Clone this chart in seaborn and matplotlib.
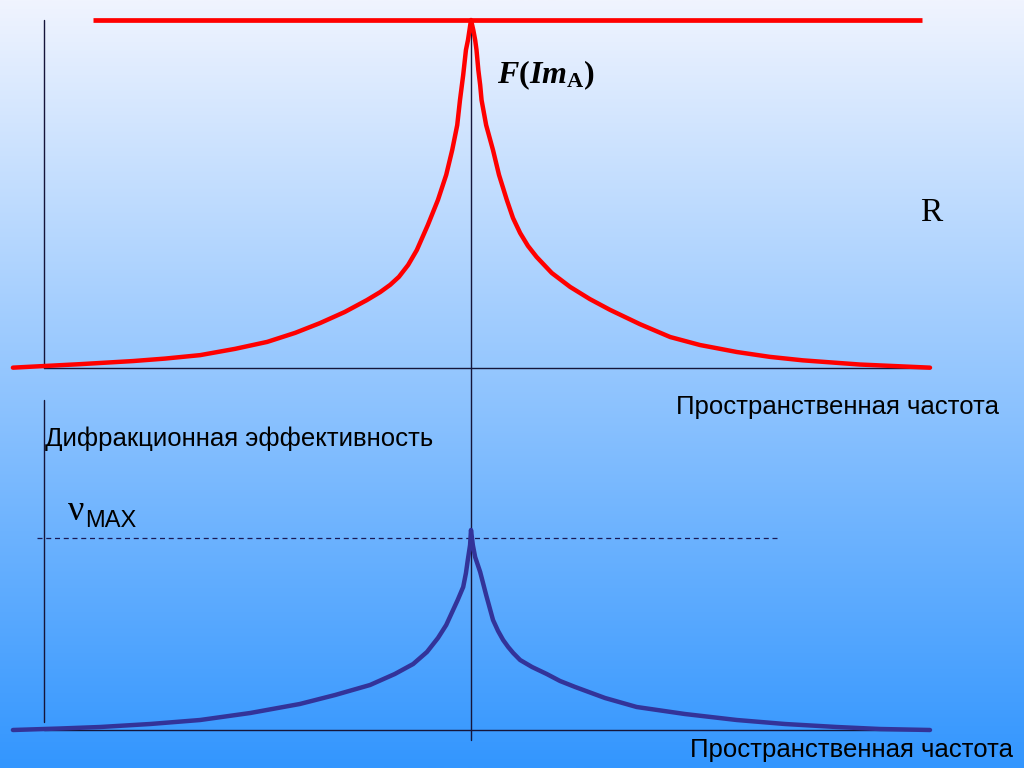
import numpy as np
import pandas as pd
import matplotlib
matplotlib.use("Agg")
import matplotlib.pyplot as plt
import seaborn as sns

sns.set_style("white")
plt.rcParams['font.family'] = ['Liberation Sans', 'DejaVu Sans']
plt.rcParams['text.color'] = 'black'
plt.rcParams['mathtext.fontset'] = 'custom'
plt.rcParams['mathtext.rm'] = 'Liberation Serif:bold'
plt.rcParams['mathtext.it'] = 'Liberation Serif:bold:italic'

# red curve F(Im_A): spatial frequency (peak at 0) vs relative level
red_freq = [-0.998, -0.852, -0.736, -0.667, -0.590, -0.514, -0.444, -0.383,
            -0.329, -0.275, -0.227, -0.198, -0.176, -0.157, -0.137, -0.118, -0.094, -0.072,
            -0.054, -0.041, -0.030, -0.024, -0.017, -0.011, -0.0065, -0.0033, 0.0,
            0.005, 0.009, 0.012, 0.016, 0.020, 0.023, 0.033, 0.048, 0.061,
            0.078, 0.0915, 0.107, 0.124, 0.143, 0.176, 0.216, 0.259, 0.303,
            0.368, 0.434, 0.499, 0.579, 0.651, 0.723, 0.847, 1.0]
red_level = [0.001, 0.011, 0.020, 0.027, 0.037, 0.055, 0.075, 0.101,
             0.129, 0.161, 0.195, 0.218, 0.239, 0.262, 0.296, 0.339, 0.411, 0.483,
             0.555, 0.626, 0.698, 0.770, 0.842, 0.914, 0.943, 0.971, 1.0,
             0.971, 0.943, 0.914, 0.856, 0.813, 0.770, 0.698, 0.626, 0.555,
             0.483, 0.431, 0.388, 0.351, 0.319, 0.273, 0.233, 0.198, 0.167,
             0.126, 0.089, 0.066, 0.046, 0.032, 0.022, 0.010, 0.001]

# blue curve: diffraction efficiency
blue_freq = [-0.998, -0.895, -0.808, -0.699, -0.590, -0.481, -0.373, -0.296,
             -0.220, -0.166, -0.126, -0.096, -0.072, -0.054, -0.041, -0.029,
             -0.017, -0.011, -0.007, -0.002, 0.0,
             0.004, 0.009, 0.020, 0.033, 0.048, 0.059, 0.070, 0.081, 0.092,
             0.107, 0.133, 0.165, 0.194, 0.227, 0.292, 0.361, 0.466, 0.579,
             0.684, 0.797, 0.891, 1.0]
blue_eff = [0.0, 0.0075, 0.015, 0.03, 0.05, 0.085, 0.13, 0.175,
            0.225, 0.28, 0.33, 0.39, 0.46, 0.525, 0.59, 0.65,
            0.715, 0.785, 0.85, 0.925, 1.0,
            0.925, 0.865, 0.79, 0.675, 0.55, 0.495, 0.45, 0.415, 0.385,
            0.35, 0.315, 0.28, 0.245, 0.215, 0.16, 0.115, 0.08, 0.05,
            0.03, 0.015, 0.005, 0.0]

r_level = 1.0
r_span = [-0.824, 0.983]
nu_max = 0.96
nu_span = [-0.946, 0.669]
axis_x = -0.930

red = pd.DataFrame({'freq': red_freq, 'level': red_level})
blue = pd.DataFrame({'freq': blue_freq, 'eff': blue_eff})

fig = plt.figure(figsize=(10.24, 7.68), dpi=100)

# slide background gradient
bg = fig.add_axes([0, 0, 1, 1])
grad = np.linspace(0, 1, 256)[:, None]
top_c = np.array([240, 244, 254]) / 255
bot_c = np.array([51, 150, 255]) / 255
img = top_c[None, None, :] * (1 - grad[:, :, None]) + bot_c[None, None, :] * grad[:, :, None]
bg.imshow(img, aspect='auto', extent=[0, 1, 0, 1])
bg.axis('off')

axcol = '#15153a'

# top panel
ax1 = fig.add_axes([12 / 1024, 400 / 768, 918 / 1024, 348 / 768])
ax1.patch.set_alpha(0)
ax1.axis('off')
ax1.set_xlim(-1, 1)
ax1.set_ylim(0, 1)
ax1.plot([axis_x, axis_x], [0, 1], color=axcol, lw=1, clip_on=False)
ax1.plot([axis_x, 1.0], [0, 0], color=axcol, lw=1, clip_on=False)
ax1.plot([0, 0], [-1.069, 1], color=axcol, lw=1, clip_on=False)
ax1.hlines(r_level, r_span[0], r_span[1], color='#ff0000', lw=3.4, clip_on=False)
sns.lineplot(data=red, x='freq', y='level', ax=ax1, color='#ff0000', lw=3.2,
             sort=False, estimator=None, legend=False)
ax1.lines[-1].set_clip_on(False)
ax1.lines[-1].set_solid_joinstyle('round')
ax1.set_xlabel('')
ax1.set_ylabel('')

# bottom panel
ax2 = fig.add_axes([12 / 1024, 38 / 768, 918 / 1024, 200 / 768])
ax2.patch.set_alpha(0)
ax2.axis('off')
ax2.set_xlim(-1, 1)
ax2.set_ylim(0, 1)
ax2.plot([axis_x, axis_x], [0.04, 1.65], color=axcol, lw=1, clip_on=False)
ax2.plot([axis_x, 1.0], [0, 0], color=axcol, lw=1, clip_on=False)
ax2.hlines(nu_max, nu_span[0], nu_span[1], color='#1a1a55', lw=0.9,
           linestyles=(0, (4, 3)), clip_on=False)
sns.lineplot(data=blue, x='freq', y='eff', ax=ax2, color='#333399', lw=3.2,
             sort=False, estimator=None, legend=False)
ax2.lines[-1].set_clip_on(False)
ax2.lines[-1].set_solid_joinstyle('round')
ax2.set_xlabel('')
ax2.set_ylabel('')

# labels
fig.text(497 / 1024, 1 - 83 / 768, r'$\mathit{F}(\mathit{Im}_{\mathrm{A}})$',
         fontsize=23, va='baseline', ha='left', color='black')
fig.text(920 / 1024, 1 - 221 / 768, 'R', family='Liberation Serif',
         fontsize=24, va='baseline', ha='left', color='black')
fig.text(676 / 1024, 1 - 414 / 768, 'Пространственная частота',
         fontsize=18.5, va='baseline', ha='left', color='black')
fig.text(45 / 1024, 1 - 446 / 768, 'Дифракционная эффективность',
         fontsize=18.5, va='baseline', ha='left', color='black')
fig.text(68 / 1024, 1 - 520 / 768, 'ν', family='Liberation Serif',
         fontsize=26, va='baseline', ha='left', color='black')
fig.text(85 / 1024, 1 - 527 / 768, 'MAX', fontsize=17, va='baseline', ha='left',
         color='black')
fig.text(690 / 1024, 1 - 757 / 768, 'Пространственная частота',
         fontsize=18.5, va='baseline', ha='left', color='black')

fig.savefig('out.png', dpi=100)
